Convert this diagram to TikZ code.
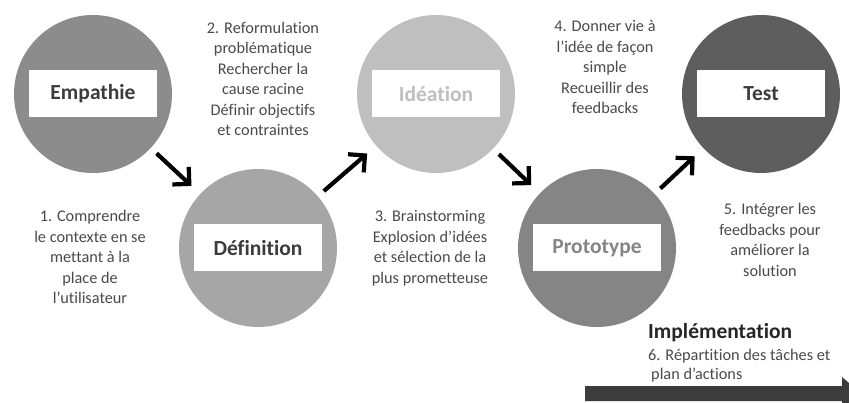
\documentclass[tikz,border=0pt]{standalone}
\usepackage{fontspec}
\setmainfont{Carlito}[Ligatures=NoCommon]
\usetikzlibrary{arrows.meta}
\definecolor{cEmp}{HTML}{8C8C8C}
\definecolor{cDef}{HTML}{A6A6A6}
\definecolor{cIde}{HTML}{BFBFBF}
\definecolor{cPro}{HTML}{858585}
\definecolor{cTes}{HTML}{5E5E5E}
\definecolor{txt}{HTML}{4A4A4A}
\definecolor{bar}{HTML}{3C3C3C}
\tikzset{
  phase/.style={circle, minimum size=158pt, inner sep=0pt, outer sep=0pt},
  label box/.style={fill=white, minimum width=128pt, minimum height=47pt, inner sep=0pt, font=\fontsize{21.5}{24}\selectfont\bfseries},
  desc/.style={align=center, text=txt, font=\fontsize{16.3}{20.5}\selectfont},
  flow/.style={line width=4.2pt, -{Straight Barb[length=12pt,width=24pt,line width=4.2pt]}, shorten <=8pt, shorten >=12pt},
}
\begin{document}
\begin{tikzpicture}[x=1pt,y=-1pt]
\fill[white] (0,0) rectangle (849,403);
\useasboundingbox (0,0) rectangle (849,403);
\clip (0,0) rectangle (849,403);

\node[phase, fill=cEmp] (c1) at (93,94) {};
\node[phase, fill=cDef] (c2) at (258,248) {};
\node[phase, fill=cIde] (c3) at (436,94) {};
\node[phase, fill=cPro] (c4) at (597,248) {};
\node[phase, fill=cTes] (c5) at (761,94) {};

\node[label box, text=bar] (b1) at (c1) {Empathie};
\node[label box, text=bar] (b2) at (c2) {Définition};
\node[label box, text=cIde] (b3) at (c3) {Idéation};
\node[label box, text=cPro] (b4) at (c4) {Prototype};
\node[label box, text=bar] (b5) at (c5) {Test};

\draw[flow] (c1) -- (c2);
\draw[flow] (c2) -- (c3);
\draw[flow] (c3) -- (c4);
\draw[flow] (c4) -- (c5);

\node[desc] (t2) at (263,79) {2. Reformulation\\problématique\\Rechercher la\\cause racine\\Définir objectifs\\et contraintes};
\node[desc] (t4) at (605,67) {4. Donner vie à\\l’idée de façon\\simple\\Recueillir des\\feedbacks};
\node[desc] (t1) at (90,257) {1. Comprendre\\le contexte en se\\mettant à la\\place de\\l’utilisateur};
\node[desc] (t3) at (430,248) {3. Brainstorming\\Explosion d’idées\\et sélection de la\\plus prometteuse};
\node[desc] (t5) at (770,240) {5. Intégrer les\\feedbacks pour\\améliorer la\\solution};

\node[anchor=base west, inner sep=0pt, text=black!85, font=\fontsize{21.5}{24}\selectfont\bfseries] (impl) at (648,338) {Implémentation};
\node[anchor=base west, inner sep=0pt, text=txt, font=\fontsize{16.3}{20.5}\selectfont] (t6a) at (648,360) {6. Répartition des tâches et};
\node[anchor=base west, inner sep=0pt, text=txt, font=\fontsize{16.3}{20.5}\selectfont] (t6b) at (651,380) {plan d’actions};

\fill[bar] (585,386) -- (842,386) -- (842,377) -- (861,393.5) -- (842,410) -- (842,401) -- (585,401) -- cycle;
\end{tikzpicture}
\end{document}
